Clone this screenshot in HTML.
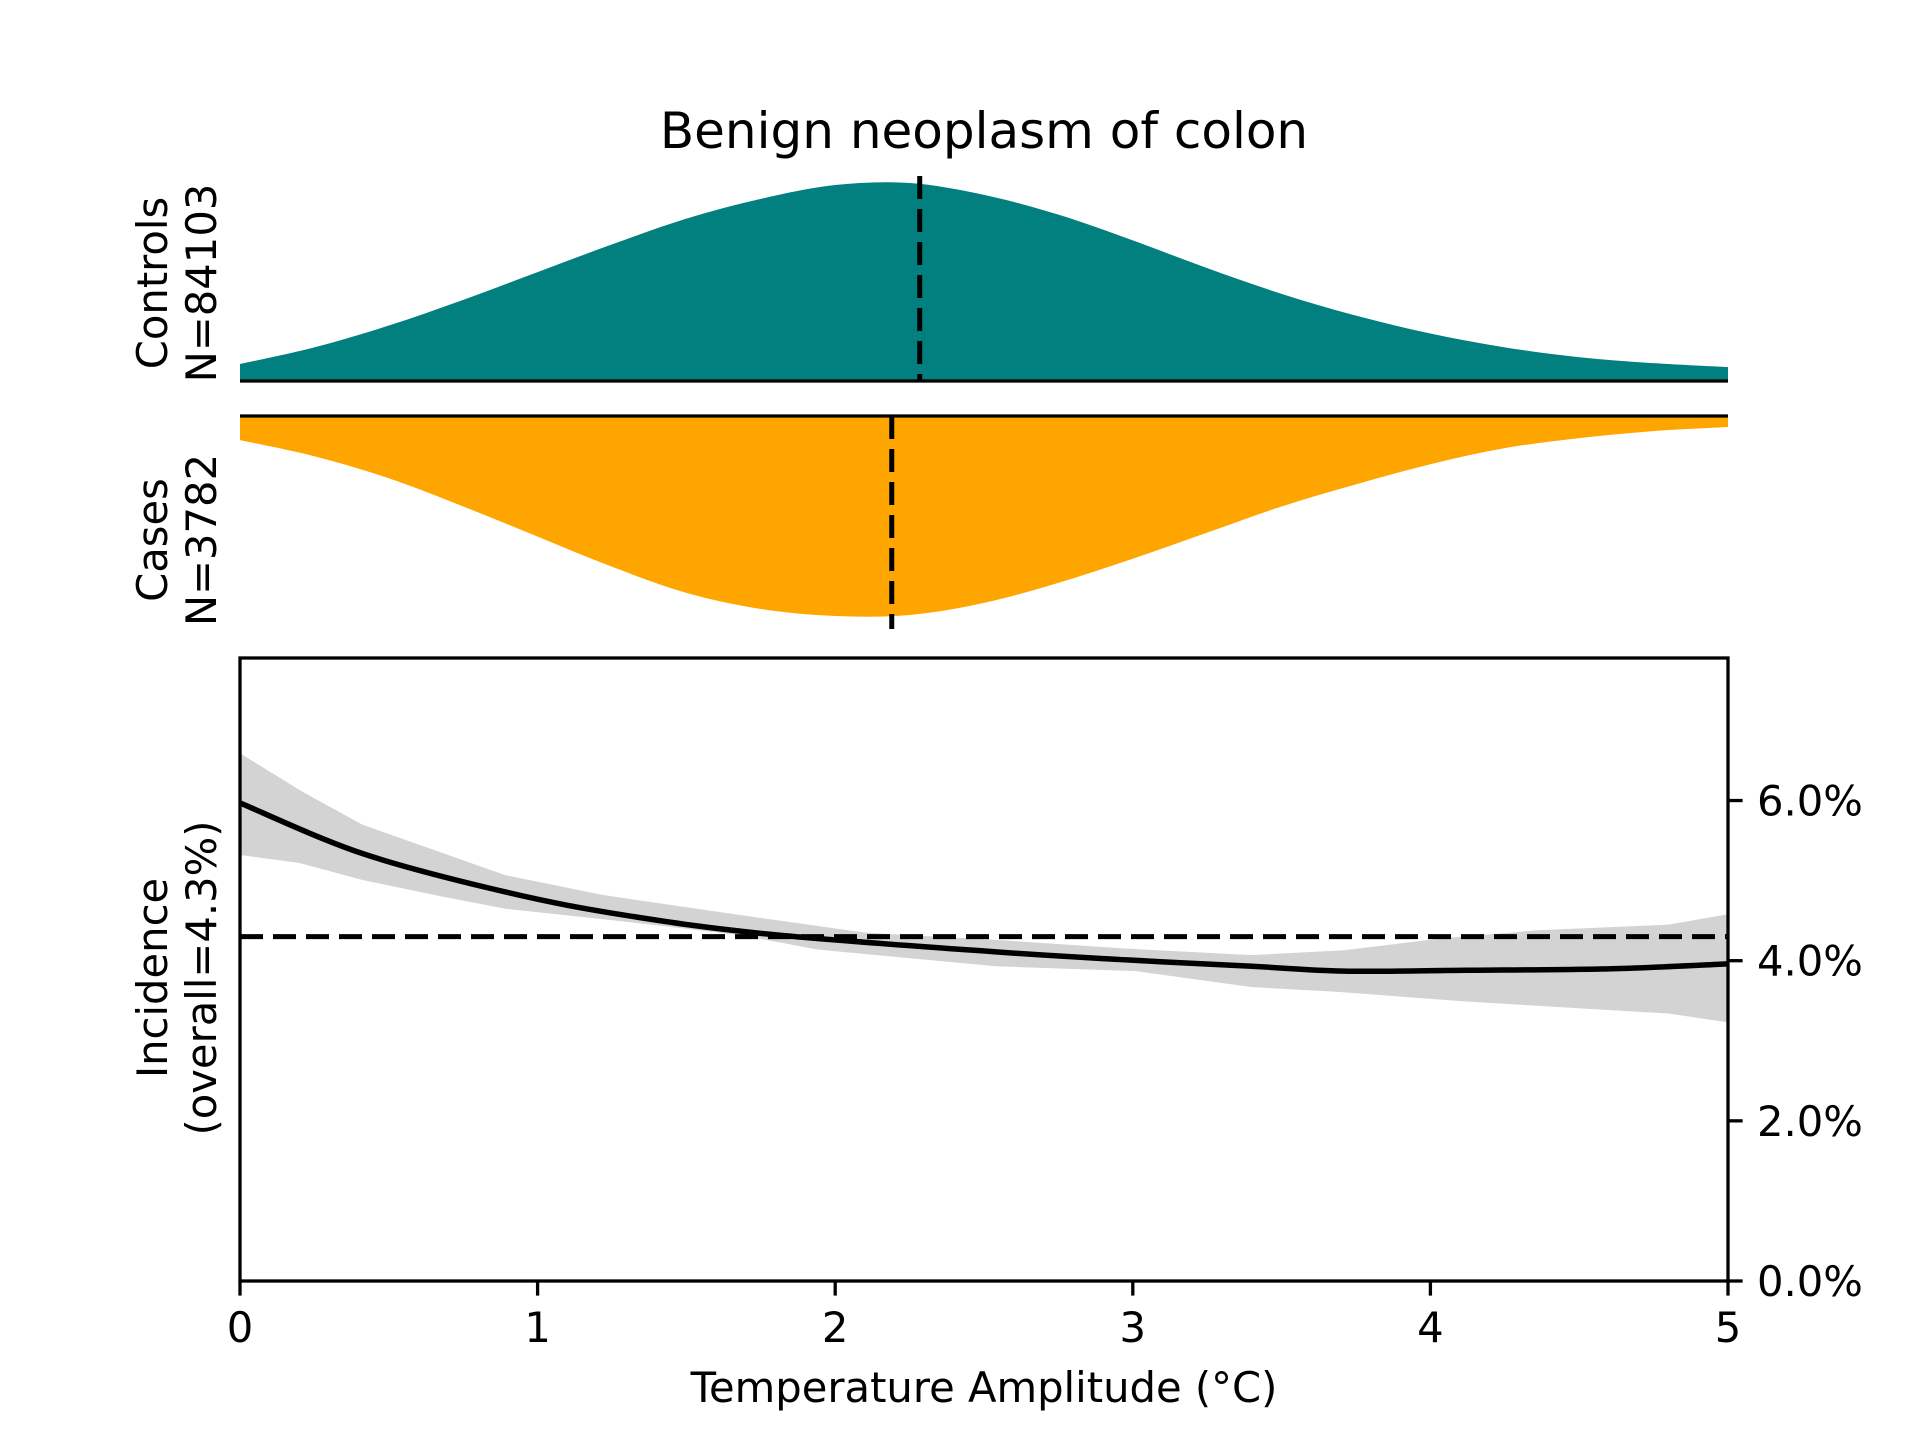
<!DOCTYPE html>
<html><head><meta charset="utf-8"><style>
html,body{margin:0;padding:0;background:#fff;}
svg{display:block;font-family:"DejaVu Sans","Liberation Sans",sans-serif;}
</style></head><body>
<svg id="chart" width="1920" height="1440" viewBox="0 0 1920 1440" xmlns="http://www.w3.org/2000/svg">
<rect width="1920" height="1440" fill="#fff"/>
<text x="984" y="148" font-size="50" text-anchor="middle">Benign neoplasm of colon</text>
<g id="ctrlG"></g>
<g id="caseG"></g>
<g id="mainG"></g>
<text transform="translate(167,283) rotate(-90)" font-size="41.7" text-anchor="middle">Controls</text>
<text transform="translate(216,283) rotate(-90)" font-size="41.7" text-anchor="middle">N=84103</text>
<text transform="translate(167,540) rotate(-90)" font-size="41.7" text-anchor="middle">Cases</text>
<text transform="translate(216,540) rotate(-90)" font-size="41.7" text-anchor="middle">N=3782</text>
<text transform="translate(167,978) rotate(-90)" font-size="41.7" text-anchor="middle">Incidence</text>
<text transform="translate(216,978) rotate(-90)" font-size="41.7" text-anchor="middle">(overall=4.3%)</text>
<text x="984" y="1402" font-size="41.7" text-anchor="middle">Temperature Amplitude (°C)</text>
</svg>
<script>
const densX = [0,0.25,0.5,0.75,1,1.25,1.5,1.75,2,2.25,2.5,2.75,3,3.25,3.5,3.75,4,4.25,4.5,4.75,5];
const controlsDens = [0.086,0.17,0.28,0.41,0.55,0.69,0.82,0.92,0.99,1.0,0.94,0.84,0.71,0.57,0.44,0.33,0.24,0.17,0.12,0.09,0.07];
const casesDens = [0.12,0.2,0.31,0.45,0.60,0.75,0.88,0.96,0.995,0.99,0.93,0.83,0.71,0.58,0.45,0.34,0.24,0.16,0.11,0.075,0.055];
const controlsMedian = 2.284;
const casesMedian = 2.19;
const lineX = [0,0.41,0.89,1.29,1.78,2.54,2.98,3.40,3.71,4.12,4.61,5];
const lineY = [5.97,5.34,4.86,4.57,4.33,4.11,4.01,3.93,3.87,3.88,3.90,3.96];
const upperX = [0,0.21,0.41,0.89,1.22,1.68,2.1,2.54,2.98,3.40,3.71,4.04,4.36,4.8,5];
const upperY = [6.59,6.11,5.70,5.07,4.82,4.57,4.35,4.26,4.15,4.07,4.13,4.28,4.38,4.45,4.58];
const lowerX = [0,0.2,0.41,0.68,0.89,1.29,1.68,1.94,2.54,3.01,3.4,3.69,4.12,4.8,5];
const lowerY = [5.32,5.22,5.01,4.8,4.65,4.49,4.32,4.14,3.93,3.87,3.67,3.61,3.49,3.34,3.23];
const overall = 4.3;
const xTicks = [0,1,2,3,4,5];
const yTicks = [0,2,4,6];
const yTickLabels = ['0.0%','2.0%','4.0%','6.0%'];

const NS='http://www.w3.org/2000/svg';
const L=240,R=1728,B=1281,T=658,YMAX=7.78;
const sx=v=>L+(v/5)*(R-L);
const sy=v=>B-(v/YMAX)*(B-T);
const cBase=381,cH=198,kTop=416,kH=201;
const cy=v=>cBase-v*cH;
const ky=v=>kTop+v*kH;
function mk(tag,attrs,parent){const e=document.createElementNS(NS,tag);for(const k in attrs)e.setAttribute(k,attrs[k]);parent.appendChild(e);return e;}
function smooth(pts){
  let d='M'+pts[0][0]+','+pts[0][1];
  for(let i=0;i<pts.length-1;i++){
    const p0=pts[Math.max(0,i-1)],p1=pts[i],p2=pts[i+1],p3=pts[Math.min(pts.length-1,i+2)];
    const c1=[p1[0]+(p2[0]-p0[0])/6,p1[1]+(p2[1]-p0[1])/6];
    const c2=[p2[0]-(p3[0]-p1[0])/6,p2[1]-(p3[1]-p1[1])/6];
    d+=' C'+c1[0]+','+c1[1]+' '+c2[0]+','+c2[1]+' '+p2[0]+','+p2[1];
  }
  return d;
}
const cg=document.getElementById('ctrlG'),kg=document.getElementById('caseG'),mg=document.getElementById('mainG');
const cpts=densX.map((x,i)=>[sx(x),cy(controlsDens[i])]);
const ca=mk('path',{d:smooth(cpts)+' L'+sx(5)+','+cBase+' L'+sx(0)+','+cBase+' Z',fill:'#028080'},cg);


const cb=mk('line',{x1:L,x2:R,y1:cBase,y2:cBase,stroke:'#000','stroke-width':3.3},cg);


const cm=mk('line',{x1:sx(controlsMedian),x2:sx(controlsMedian),y1:176,y2:cBase,stroke:'#000','stroke-width':5,'stroke-dasharray':'23,10'},cg);


const kpts=densX.map((x,i)=>[sx(x),ky(casesDens[i])]);
const ka=mk('path',{d:smooth(kpts)+' L'+sx(5)+','+kTop+' L'+sx(0)+','+kTop+' Z',fill:'#FFA500'},kg);


const kb=mk('line',{x1:L,x2:R,y1:kTop,y2:kTop,stroke:'#000','stroke-width':3.3},kg);


const km=mk('line',{x1:sx(casesMedian),x2:sx(casesMedian),y1:kTop,y2:629,stroke:'#000','stroke-width':5,'stroke-dasharray':'23,10'},kg);


let bd='M'+upperX.map((x,i)=>sx(x)+','+sy(upperY[i])).join(' L');
for(let i=lowerX.length-1;i>=0;i--)bd+=' L'+sx(lowerX[i])+','+sy(lowerY[i]);
const band=mk('path',{d:bd+' Z',fill:'#d3d3d3'},mg);


const ol=mk('line',{x1:L,x2:R,y1:sy(overall),y2:sy(overall),stroke:'#000','stroke-width':5,'stroke-dasharray':'23,10'},mg);


const ln=mk('path',{d:smooth(lineX.map((x,i)=>[sx(x),sy(lineY[i])])),fill:'none',stroke:'#000','stroke-width':5.5},mg);


const fr=mk('rect',{x:L,y:T,width:R-L,height:B-T,fill:'none',stroke:'#000','stroke-width':3.3},mg);


xTicks.forEach(v=>{
  const t=mk('line',{x1:sx(v),x2:sx(v),y1:B,y2:B+14.6,stroke:'#000','stroke-width':3.3},mg);
  
  
  const tx=mk('text',{x:sx(v),y:B+61,'font-size':41.7,'text-anchor':'middle'},mg);
  tx.textContent=String(v);
  
  
});
yTicks.forEach((v,i)=>{
  const t=mk('line',{x1:R,x2:R+14.6,y1:sy(v),y2:sy(v),stroke:'#000','stroke-width':3.3},mg);
  
  
  const tx=mk('text',{x:R+29,y:sy(v)+15,'font-size':41.7},mg);
  tx.textContent=yTickLabels[i];
  
  
});
</script>
</body></html>
